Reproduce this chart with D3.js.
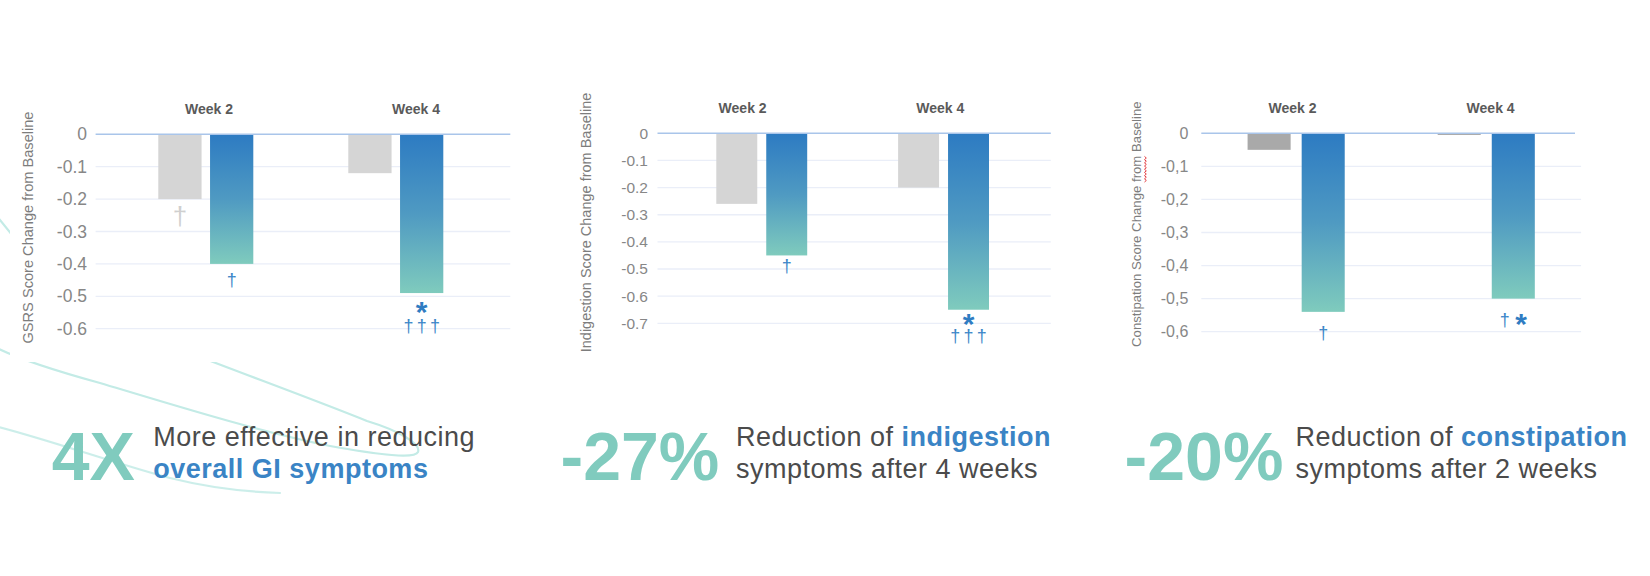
<!DOCTYPE html>
<html><head><meta charset="utf-8">
<script src="https://cdn.jsdelivr.net/npm/d3@7"></script>
<style>
html,body{margin:0;padding:0;background:#fff;}
svg{display:block;font-family:"Liberation Sans",Arial,sans-serif;}
</style></head><body>
<svg id="chart" width="1650" height="576"></svg>
<script>
// ---------- data ----------
const weeks = ["Week 2", "Week 4"];
const seriesKeys = ["Placebo", "Product"];
const gsrsPlacebo = [-0.20, -0.12];
const gsrsProduct = [-0.40, -0.49];
const indigestionPlacebo = [-0.26, -0.20];
const indigestionProduct = [-0.45, -0.65];
const constipationPlacebo = [-0.05, -0.005];
const constipationProduct = [-0.54, -0.50];
const gsrsTicks = [0, -0.1, -0.2, -0.3, -0.4, -0.5, -0.6];
const indigestionTicks = [0, -0.1, -0.2, -0.3, -0.4, -0.5, -0.6, -0.7];
const constipationTicks = [0, -0.1, -0.2, -0.3, -0.4, -0.5, -0.6];
const gsrsMarkers = [["Week 2","Placebo","†",0],["Week 2","Product","†",0],["Week 4","Product","*",0],["Week 4","Product","†††",1]];
const indigestionMarkers = [["Week 2","Product","†",0],["Week 4","Product","*",0],["Week 4","Product","†††",1]];
const constipationMarkers = [["Week 2","Product","†",0],["Week 4","Product","† *",0]];
const yTitles = ["GSRS Score Change from Baseline", "Indigestion Score Change from Baseline", "Constipation Score Change from Baseline"];
const headlines = ["4X", "-27%", "-20%"];
const captionLine1 = [[["More effective in reducing", false]], [["Reduction of ", false], ["indigestion", true]], [["Reduction of ", false], ["constipation", true]]];
const captionLine2 = [[["overall GI symptoms", true]], [["symptoms after 4 weeks", false]], [["symptoms after 2 weeks", false]]];

// ---------- layout ----------
const layouts = [
  {grid:[95.6,510.3], zeroEnd:510.3, yr:[134.3,328.7], ymin:-0.6, band:[110.8,490.8], pin:0.5, pout:0.25, sub:0.164,
   head:[209,416], headY:114, titleX:33, titleY:227.5, titleSize:14.6, tickSize:17.5, tickPad:8.6,
   gap:16.5, placeboGap:18.7, rowStep:17.5, placebo:"#d5d5d5", decimal:"."},
  {grid:[657.5,1050.8], zeroEnd:1050.8, yr:[133.3,323.3], ymin:-0.7, band:[670.85,1034.45], pin:0.5, pout:0.25, sub:0.18,
   head:[742.6,940.3], headY:113, titleX:591, titleY:222.5, titleSize:14.5, tickSize:15.5, tickPad:9.5,
   gap:11.5, placeboGap:14, rowStep:16, placebo:"#d5d5d5", decimal:"."},
  {grid:[1201.3,1581.1], zeroEnd:1575, yr:[133.3,331.7], ymin:-0.6, band:[1201.3,1581.1], pin:0.489, pout:0.2435, sub:0.204,
   head:[1292.5,1490.6], headY:113, titleX:1141, titleY:224.2, titleSize:13.2, tickSize:16, tickPad:13,
   gap:22, placeboGap:22, rowStep:16, placebo:"#a9a9a9", decimal:",", squiggle:"from"}
];
const panels = [
  {placebo:gsrsPlacebo, product:gsrsProduct, ticks:gsrsTicks, markers:gsrsMarkers, title:yTitles[0]},
  {placebo:indigestionPlacebo, product:indigestionProduct, ticks:indigestionTicks, markers:indigestionMarkers, title:yTitles[1]},
  {placebo:constipationPlacebo, product:constipationProduct, ticks:constipationTicks, markers:constipationMarkers, title:yTitles[2]}
];
const captionLayout = {bigX:[51.7,560.5,1124.6], textX:[153.3,735.9,1295.4], bigY:480, line1Y:445.5, line2Y:478};

const FONT = '"Liberation Sans", Arial, sans-serif';
const TEAL = "#80cbbe", BLUE = "#3a84c5", TEXT = "#4b4b4b";

const svg = d3.select("#chart");
const defs = svg.append("defs");
const grad = defs.append("linearGradient").attr("id","blueGrad").attr("x1",0).attr("y1",0).attr("x2",0).attr("y2",1);
grad.append("stop").attr("offset","0%").attr("stop-color","#2d7bc2");
grad.append("stop").attr("offset","50%").attr("stop-color","#4f9ac2");
grad.append("stop").attr("offset","100%").attr("stop-color","#7fcbbd");

// ---------- decorative background curves ----------
const deco = svg.append("g").attr("fill","none").attr("stroke","#c3ebe6").attr("stroke-width",2.2).attr("stroke-linecap","round");
deco.append("path").attr("d","M -5,214 C 0,220 8,230 20,245");
deco.append("path").attr("d","M -5,347 C 20,360 60,372 100,383 C 170,404 260,432 330,446 C 380,455 415,459 418,452 C 421,444 400,431 367,421 C 320,402 260,380 200,357");
deco.append("path").attr("d","M -5,426 C 50,440 120,465 170,478 C 210,488 250,492 280,493").attr("stroke-opacity",0.85);
// white card behind first chart
svg.append("rect").attr("x",10).attr("y",40).attr("width",520).attr("height",322).attr("fill","#fff");

// ---------- panels ----------
panels.forEach((P, i) => {
  const L = layouts[i];
  const g = svg.append("g");
  const y = d3.scaleLinear().domain([0, L.ymin]).range(L.yr);
  const x0 = d3.scaleBand().domain(weeks).range(L.band).paddingInner(L.pin).paddingOuter(L.pout);
  const x1 = d3.scaleBand().domain(seriesKeys).range([0, x0.bandwidth()]).paddingInner(L.sub);
  const hx = d3.scalePoint().domain(weeks).range(L.head);

  // gridlines
  g.append("g").selectAll("line").data(P.ticks.filter(t => t !== 0)).join("line")
    .attr("x1", L.grid[0]).attr("x2", L.grid[1])
    .attr("y1", d => y(d)).attr("y2", d => y(d))
    .attr("stroke", "#eaeef8").attr("stroke-width", 1.3);

  // y axis
  const fmt = d => d === 0 ? "0" : d.toFixed(1).replace(".", L.decimal);
  const ax = g.append("g").attr("transform", `translate(${L.grid[0]},0)`)
    .call(d3.axisLeft(y).tickValues(P.ticks).tickFormat(fmt).tickSize(0).tickPadding(L.tickPad));
  ax.select(".domain").remove();
  ax.selectAll("text").attr("font-family", FONT).attr("font-size", L.tickSize).attr("fill", "#878787");

  // bars
  const rows = weeks.map((w, j) => ({week: w, Placebo: P.placebo[j], Product: P.product[j]}));
  g.append("g").selectAll("g").data(rows).join("g")
    .attr("transform", d => `translate(${x0(d.week)},0)`)
    .selectAll("rect").data(d => seriesKeys.map(k => ({key: k, value: d[k]}))).join("rect")
    .attr("x", d => x1(d.key)).attr("width", x1.bandwidth())
    .attr("y", y(0)).attr("height", d => y(d.value) - y(0))
    .attr("fill", d => d.key === "Placebo" ? L.placebo : "url(#blueGrad)");

  // zero line
  g.append("line").attr("x1", L.grid[0]).attr("x2", L.zeroEnd).attr("y1", y(0)).attr("y2", y(0))
    .attr("stroke", "#a9c5ea").attr("stroke-width", 1.6);

  // week headers
  g.append("g").selectAll("text").data(weeks).join("text")
    .attr("x", d => hx(d)).attr("y", L.headY).attr("text-anchor", "middle")
    .attr("font-family", FONT).attr("font-weight", "bold").attr("font-size", 14).attr("fill", "#5a5a5a")
    .text(d => d);

  // significance markers: one text element per bar, one chunk per row
  const grouped = d3.group(P.markers, m => m[0] + "|" + m[1]);
  grouped.forEach(list => {
    const [week, key] = list[0];
    const j = weeks.indexOf(week);
    const value = key === "Placebo" ? P.placebo[j] : P.product[j];
    const isPlacebo = key === "Placebo";
    const size = isPlacebo ? 26 : 18;
    const starSize = 30;
    const cx = x0(week) + x1(key) + x1.bandwidth() / 2;
    const t = g.append("text").attr("text-anchor", "middle").attr("font-family", FONT)
      .attr("font-size", size).attr("fill", isPlacebo ? "#cfcfcf" : "#3b86c8");
    list.slice().sort((a, b) => a[3] - b[3]).forEach(m => {
      const label = m[2], row = m[3];
      const center = y(value) + (isPlacebo ? L.placeboGap : L.gap) + row * L.rowStep;
      let current = null;
      label.split("").forEach((ch, ci) => {
        const ts = t.append("tspan").text(ch);
        const base = ch === "*" ? center + 0.43 * starSize : center + 0.285 * size;
        if (ci === 0) { ts.attr("x", cx).attr("y", base); }
        else if (Math.abs(base - current) > 0.01) { ts.attr("dy", base - current); }
        current = base;
        if (ch === "*") {
          ts.attr("font-size", starSize).attr("font-weight", "bold").attr("fill", "#2f7cc2");
        } else if (ch === " ") {
          ts.attr("font-size", size * 1.1);
        } else if (label === "†††" && ci < label.length - 1) {
          ts.attr("letter-spacing", 3.2);
        }
      });
    });
  });

  // y title
  const tg = g.append("g").attr("transform", `translate(${L.titleX},${L.titleY}) rotate(-90)`);
  const tt = tg.append("text").attr("text-anchor", "middle").attr("font-family", FONT)
    .attr("font-size", L.titleSize).attr("fill", "#7d7d7d").text(P.title);
  if (L.squiggle) {
    const node = tt.node();
    const idx = P.title.indexOf(L.squiggle);
    const total = node.getComputedTextLength();
    const a = node.getSubStringLength(0, idx);
    const w = node.getSubStringLength(idx, L.squiggle.length);
    const start = -total / 2 + a;
    let d = `M ${start},3.5`;
    const step = 1.6;
    let k = 0;
    for (let xx = start + step; xx <= start + w + 0.01; xx += step) {
      d += ` L ${xx},${k % 2 === 0 ? 5.3 : 3.5}`;
      k++;
    }
    tg.append("path").attr("d", d).attr("fill", "none").attr("stroke", "#e0262b").attr("stroke-width", 0.9);
  }
});

// ---------- captions ----------
headlines.forEach((h, i) => {
  svg.append("text").attr("x", captionLayout.bigX[i]).attr("y", captionLayout.bigY)
    .attr("font-family", FONT).attr("font-weight", "bold").attr("font-size", 68).attr("fill", TEAL).text(h);
  [[captionLine1[i], captionLayout.line1Y], [captionLine2[i], captionLayout.line2Y]].forEach(([parts, yy]) => {
    const t = svg.append("text").attr("x", captionLayout.textX[i]).attr("y", yy)
      .attr("font-family", FONT).attr("font-size", 27).attr("letter-spacing", 0.5);
    parts.forEach(([s, bold]) => {
      t.append("tspan").text(s).attr("font-weight", bold ? "bold" : "normal").attr("fill", bold ? BLUE : TEXT);
    });
  });
});
</script>
</body></html>
